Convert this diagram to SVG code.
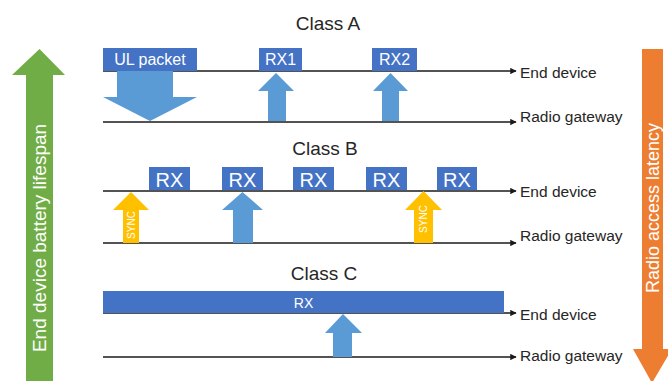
<svg xmlns="http://www.w3.org/2000/svg" width="668" height="381" viewBox="0 0 668 381">
<defs>
<style>
text{font-family:"Liberation Sans",Arial,sans-serif}
.title{font-size:19px;fill:#262626;text-anchor:middle}
.lbl{font-size:15.5px;fill:#262626}
.box{fill:#4472C4}
.btxt{fill:#fff;text-anchor:middle}
.up{fill:#5B9BD5}
.sync{fill:#FFC000}
.stxt{fill:#fff;font-size:10px;text-anchor:middle}
.tl{stroke:#1a1a1a;stroke-width:1.6;fill:none;marker-end:url(#ah)}
</style>
<marker id="ah" viewBox="0 0 10 10" refX="9" refY="5" markerWidth="4" markerHeight="4" orient="auto" markerUnits="strokeWidth">
<path d="M0,0 L10,5 L0,10 z" fill="#1a1a1a"/>
</marker>
</defs>
<rect width="668" height="381" fill="#fff"/>

<g id="battery">
<polygon points="26,385 26,75 12,75 39.5,49 65,75 53,75 53,385" fill="#70AD47"/>
<text transform="translate(46,238) rotate(-90)" font-size="19" fill="#fff" text-anchor="middle">End device battery lifespan</text>
</g>
<g id="latency">
<polygon points="642,49 663,49 663,349 672,349 652,383 633,349 642,349" fill="#ED7D31"/>
<text transform="translate(659,208) rotate(-90)" font-size="18" fill="#fff" text-anchor="middle">Radio access latency</text>
</g>

<g id="connectors">
<line class="tl" x1="103" y1="71" x2="516" y2="71"/>
<line class="tl" x1="103" y1="122" x2="516" y2="122"/>
<line class="tl" x1="103" y1="191" x2="516" y2="191"/>
<line class="tl" x1="103" y1="243" x2="516" y2="243"/>
<line class="tl" x1="103" y1="313" x2="516" y2="313"/>
<line class="tl" x1="103" y1="357" x2="516" y2="357"/>
</g>

<g id="classA">
<text class="title" x="328" y="30">Class A</text>
<text class="lbl" x="520" y="78">End device</text>
<text class="lbl" x="520" y="122">Radio gateway</text>
<g id="ul-packet">
<rect class="box" x="103" y="48" width="94" height="23"/>
<text class="btxt" x="150" y="65" font-size="16">UL packet</text>
<polygon class="up" points="117,71 173,71 173,97 197,97 150,121 103,97 117,97"/>
</g>
<g id="rx1">
<rect class="box" x="259" y="48" width="43" height="23"/>
<text class="btxt" x="280.5" y="65" font-size="16">RX1</text>
<polygon class="up" points="268,121 268,91 258,91 276,73 294,91 286,91 286,121"/>
</g>
<g id="rx2">
<rect class="box" x="372" y="48" width="45" height="23"/>
<text class="btxt" x="394.5" y="65" font-size="16">RX2</text>
<polygon class="up" points="382,121 382,91 373,91 390.5,73 408,91 399,91 399,121"/>
</g>
</g>

<g id="classB">
<text class="title" x="325" y="155">Class B</text>
<text class="lbl" x="520" y="197">End device</text>
<text class="lbl" x="520" y="241">Radio gateway</text>
<g id="rxb1"><rect class="box" x="149" y="167" width="41" height="23"/><text class="btxt" x="169.5" y="187" font-size="20">RX</text></g>
<g id="rxb2"><rect class="box" x="222" y="167" width="41" height="23"/><text class="btxt" x="242.5" y="187" font-size="20">RX</text></g>
<g id="rxb3"><rect class="box" x="293" y="167" width="41" height="23"/><text class="btxt" x="313.5" y="187" font-size="20">RX</text></g>
<g id="rxb4"><rect class="box" x="366" y="167" width="41" height="23"/><text class="btxt" x="386.5" y="187" font-size="20">RX</text></g>
<g id="rxb5"><rect class="box" x="437" y="167" width="40" height="23"/><text class="btxt" x="457" y="187" font-size="20">RX</text></g>
<g id="sync1">
<polygon class="sync" points="123,243 123,210 113,210 131,192 149,210 139,210 139,243"/>
<text class="stxt" transform="translate(134.5,225) rotate(-90)">SYNC</text>
</g>
<g id="upb">
<polygon class="up" points="233,243 233,210 222,210 242.5,192 263,210 253,210 253,243"/>
</g>
<g id="sync2">
<polygon class="sync" points="414,243 414,210 405,210 423.5,191 442,210 433,210 433,243"/>
<text class="stxt" transform="translate(427,219) rotate(-90)">SYNC</text>
</g>
</g>

<g id="classC">
<text class="title" x="324" y="280">Class C</text>
<text class="lbl" x="520" y="320">End device</text>
<text class="lbl" x="520" y="361">Radio gateway</text>
<g id="rxc">
<rect class="box" x="103" y="291" width="401" height="22"/>
<text class="btxt" x="303.5" y="308" font-size="14">RX</text>
</g>
<g id="upc">
<polygon class="up" points="333,357 333,333 325,333 343,314 362,333 352,333 352,357"/>
</g>
</g>
</svg>
